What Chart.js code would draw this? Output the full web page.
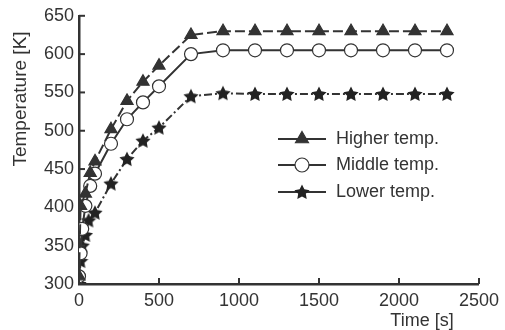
<!DOCTYPE html>
<html>
<head>
<meta charset="utf-8">
<script src="https://cdn.jsdelivr.net/npm/chart.js@4/dist/chart.umd.min.js"></script>
<style>
  html, body { margin: 0; padding: 0; background: #fff; }
  #wrap { width: 505px; height: 330px; position: relative; }
</style>
</head>
<body>
<div id="wrap"><canvas id="tempChart"></canvas></div>
<script>
// time axis ticks / temperature axis ticks
const xTicks = [0, 500, 1000, 1500, 2000, 2500];
const yTicks = [300, 350, 400, 450, 500, 550, 600, 650];

const seriesNames = ['Higher temp.', 'Middle temp.', 'Lower temp.'];

const higherTime = [0, 10, 40, 70, 100, 200, 300, 400, 500, 700, 900, 1100, 1300, 1500, 1700, 1900, 2100, 2300];
const higherTemp = [310, 402, 418, 445, 460, 502, 539, 564, 585, 625, 630, 630, 630, 630, 630, 630, 630, 630];

const middleTime = [0, 10, 20, 40, 70, 100, 200, 300, 400, 500, 700, 900, 1100, 1300, 1500, 1700, 1900, 2100, 2300];
const middleTemp = [310, 340, 372, 402, 428, 444, 483, 515, 537, 558, 600, 605, 605, 605, 605, 605, 605, 605, 605];

const lowerTime = [0, 10, 20, 40, 60, 100, 200, 300, 400, 500, 700, 900, 1100, 1300, 1500, 1700, 1900, 2100, 2300];
const lowerTemp = [300, 330, 350, 364, 383, 393, 431, 463, 487, 504, 545, 549, 548, 548, 548, 548, 548, 548, 548];

const INK = '#333';
const FONT = "'Liberation Sans', Arial, sans-serif";

function pts(xs, ys) { return xs.map((x, i) => ({ x, y: ys[i] })); }

function starImg(size) {
  const c = document.createElement('canvas');
  c.width = c.height = size;
  const g = c.getContext('2d');
  const R = size / 2, r = R * 0.5;
  g.beginPath();
  for (let i = 0; i < 10; i++) {
    const rad = i % 2 ? r : R;
    const a = -Math.PI / 2 + i * Math.PI / 5;
    g.lineTo(R + rad * Math.cos(a), R + 0.6 + rad * Math.sin(a));
  }
  g.closePath();
  g.fillStyle = '#222';
  g.fill();
  return c;
}
const STAR = starImg(16);

const lineStyles = [
  { pointStyle: 'triangle', pointRadius: 7, bg: INK, dash: [10, 4] },
  { pointStyle: 'circle', pointRadius: 6.5, bg: '#fff', dash: [] },
  { pointStyle: STAR, pointRadius: 7, bg: INK, dash: [8, 3, 2, 3] }
];

const dataSets = [pts(higherTime, higherTemp), pts(middleTime, middleTemp), pts(lowerTime, lowerTemp)];

// inward tick marks, axis titles and the in-plot legend
const decor = {
  id: 'decor',
  afterDraw(chart) {
    const ctx = chart.ctx;
    const xs = chart.scales.x, ys = chart.scales.y;
    const a = chart.chartArea;
    ctx.save();
    ctx.strokeStyle = INK;
    ctx.lineWidth = 2;
    xTicks.forEach(v => {
      const px = xs.getPixelForValue(v);
      ctx.beginPath(); ctx.moveTo(px, a.bottom); ctx.lineTo(px, a.bottom - 6); ctx.stroke();
    });
    yTicks.forEach(v => {
      const py = ys.getPixelForValue(v);
      ctx.beginPath(); ctx.moveTo(a.left, py); ctx.lineTo(a.left + 6, py); ctx.stroke();
    });

    ctx.fillStyle = INK;
    ctx.font = '18px ' + FONT;
    ctx.textAlign = 'center';
    ctx.textBaseline = 'middle';
    ctx.fillText('Time [s]', 422, 321);
    ctx.save();
    ctx.translate(21, 99);
    ctx.rotate(-Math.PI / 2);
    ctx.font = '19px ' + FONT;
    ctx.fillText('Temperature [K]', 0, 0);
    ctx.restore();

    const legY = [139, 165, 192];
    legY.forEach((y, i) => {
      const st = lineStyles[i];
      ctx.beginPath(); ctx.moveTo(278, y); ctx.lineTo(326, y);
      ctx.lineWidth = 2; ctx.setLineDash([]); ctx.stroke();
      ctx.lineWidth = 1.2;
      ctx.fillStyle = st.bg;
      Chart.helpers.drawPoint(ctx, { pointStyle: st.pointStyle, radius: st.pointRadius + 0.5, borderWidth: 1.2, rotation: 0 }, 302, y);
      ctx.fillStyle = INK;
      ctx.textAlign = 'left';
      ctx.font = '18px ' + FONT;
      ctx.fillText(seriesNames[i], 336, y);
    });
    ctx.restore();
  }
};

new Chart(document.getElementById('tempChart'), {
  type: 'line',
  data: {
    datasets: dataSets.map((d, i) => ({
      label: seriesNames[i],
      data: d,
      borderColor: INK,
      borderWidth: 2,
      borderDash: lineStyles[i].dash,
      pointStyle: lineStyles[i].pointStyle,
      pointRadius: lineStyles[i].pointRadius,
      pointBackgroundColor: lineStyles[i].bg,
      pointBorderColor: INK,
      pointBorderWidth: 1.2,
      tension: 0
    }))
  },
  options: {
    responsive: true,
    maintainAspectRatio: false,
    animation: false,
    layout: { padding: { top: 14, right: 18, left: 0, bottom: 0 } },
    plugins: { legend: { display: false }, tooltip: { enabled: false } },
    scales: {
      x: {
        type: 'linear', min: 0, max: 2500,
        afterBuildTicks: s => { s.ticks = xTicks.map(v => ({ value: v })); },
        afterFit: s => { s.height = 46; },
        border: { color: INK, width: 2.5 },
        grid: { drawOnChartArea: false, drawTicks: false },
        ticks: { color: INK, padding: 6, font: { size: 18, family: FONT }, callback: v => String(v) }
      },
      y: {
        min: 300, max: 650,
        afterBuildTicks: s => { s.ticks = yTicks.map(v => ({ value: v })); },
        afterFit: s => { s.width = 79; },
        border: { color: INK, width: 2.5 },
        grid: { drawOnChartArea: false, drawTicks: false },
        ticks: { color: INK, padding: 5, font: { size: 18, family: FONT }, callback: v => String(v) }
      }
    }
  },
  plugins: [decor]
});
</script>
</body>
</html>
